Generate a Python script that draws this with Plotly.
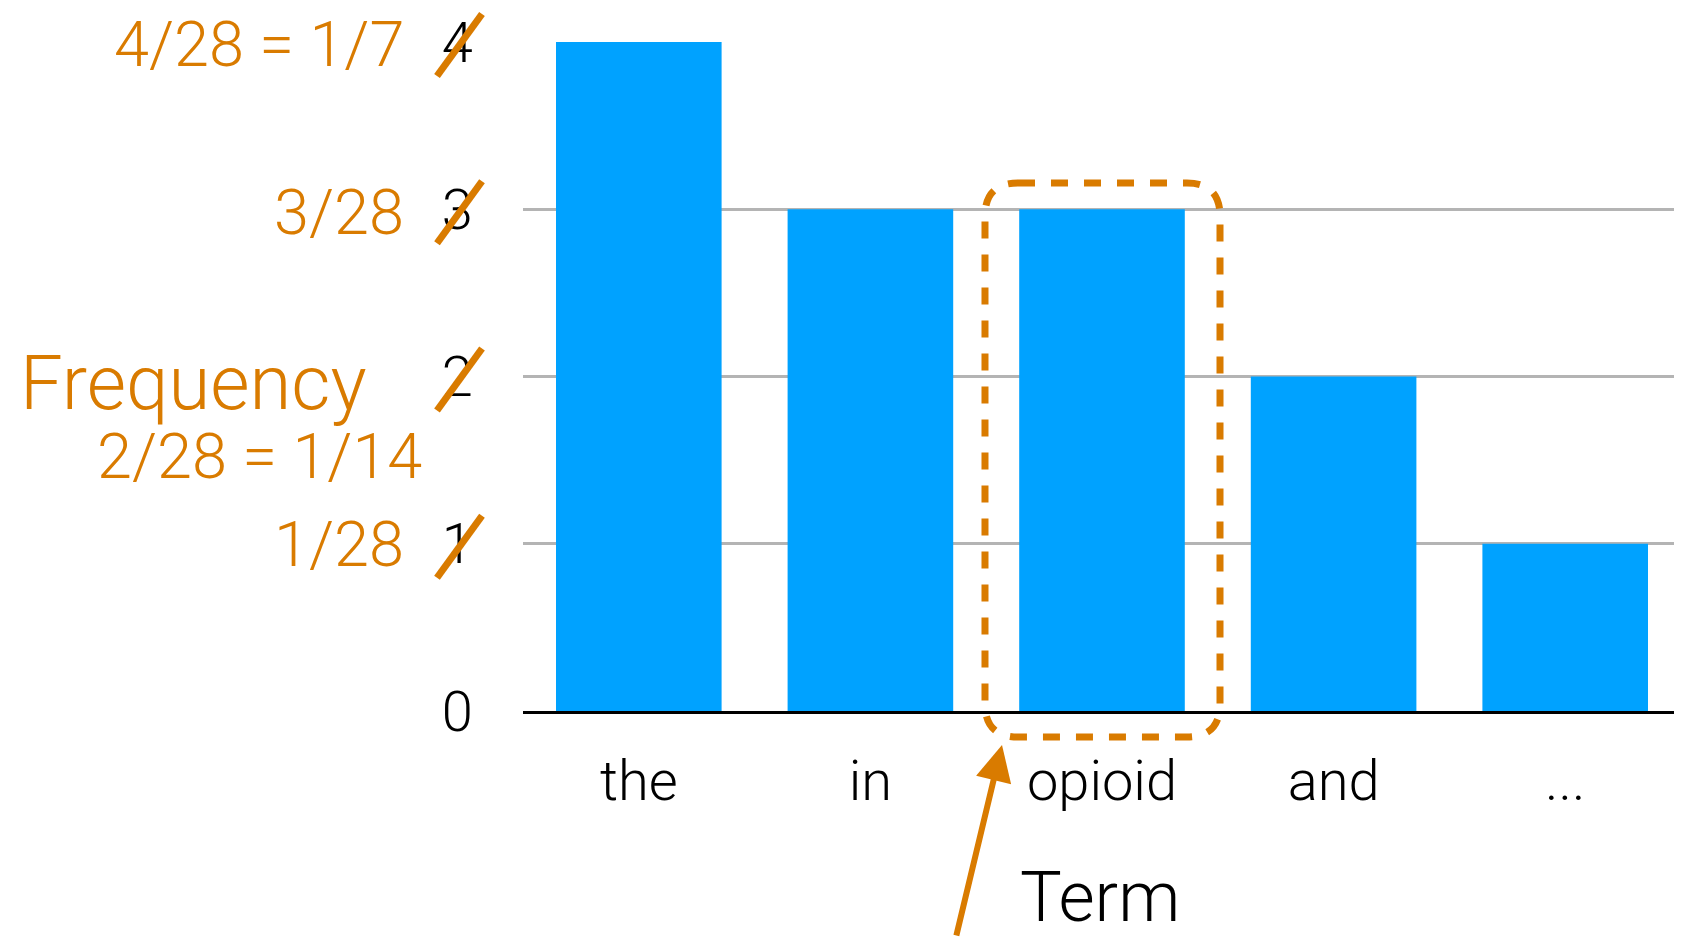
import plotly.graph_objects as go

# ---- data ----
terms = ["the", "in", "opioid", "and", "..."]
counts = [4, 3, 3, 2, 1]
y_tick_vals = [0, 1, 2, 3, 4]
y_tick_text = ["0", "1", "2", "3", "4"]
prob_values = [4, 3, 2, 1]
prob_labels = ["4/28 = 1/7", "3/28", "2/28 = 1/14", "1/28"]
highlight_term = "opioid"

# ---- styling ----
OFF = 8  # page body margin
W, H = 1682 - OFF, 937 - OFF
L, R, T, B = 523 - OFF, 1, 42 - OFF, 226
PW, PH = W - L - R, H - T - B
ORANGE = "#D97B00"
BLUE = "#00A2FF"
FONT = "Roboto"


def px(x):
    return (x - OFF - L) / PW


def py(y):
    return (H - B - (y - OFF)) / PH


def ypix(v):
    return OFF + T + PH * (1 - v / 4.0)


fig = go.Figure(
    go.Bar(x=terms, y=counts, marker=dict(color=BLUE, line=dict(width=0)), showlegend=False)
)

fig.update_layout(
    width=W,
    height=H,
    margin=dict(l=L, r=R, t=T, b=B, pad=0),
    paper_bgcolor="white",
    plot_bgcolor="white",
    bargap=0.285,
    font=dict(family=FONT, color="black", weight=300),
)

fig.update_xaxes(
    type="category",
    showgrid=False,
    showline=True,
    linecolor="black",
    linewidth=3,
    ticks="outside",
    ticklen=19,
    tickcolor="rgba(0,0,0,0)",
    tickfont=dict(family=FONT, size=56, color="black", weight=300),
    zeroline=False,
)

fig.update_yaxes(
    range=[0, 4],
    tickvals=y_tick_vals,
    ticktext=y_tick_text,
    showgrid=True,
    gridcolor="#B4B4B4",
    gridwidth=2.5,
    zeroline=False,
    showline=False,
    ticks="outside",
    ticklen=38,
    tickcolor="rgba(0,0,0,0)",
    tickfont=dict(family=FONT, size=56, color="black", weight=300),
)

annotations = []
shapes = []

# probability labels and strike-throughs
label_offsets = {4: 2, 3: 3, 2: 80, 1: 1}
label_right = {4: 406, 3: 406, 2: 424, 1: 406}
for v, lab in zip(prob_values, prob_labels):
    cy = ypix(v) + label_offsets[v]
    annotations.append(dict(
        x=px(label_right[v]), y=py(cy), xref="paper", yref="paper",
        text=lab, showarrow=False, xanchor="right", yanchor="middle",
        font=dict(family=FONT, size=63, color=ORANGE, weight=300),
    ))
    sc = ypix(v) + 3
    shapes.append(dict(
        type="line", xref="paper", yref="paper",
        x0=px(437), y0=py(sc + 31), x1=px(482), y1=py(sc - 31),
        line=dict(color=ORANGE, width=7),
    ))

# "Frequency" label
annotations.append(dict(
    x=px(18), y=py(383), xref="paper", yref="paper", text="Frequency",
    showarrow=False, xanchor="left", yanchor="middle",
    font=dict(family=FONT, size=76, color=ORANGE, weight=300),
))

# "Term" label
annotations.append(dict(
    x=px(1100), y=py(897), xref="paper", yref="paper", text="Term",
    showarrow=False, xanchor="center", yanchor="middle",
    font=dict(family=FONT, size=70, color="black", weight=300),
))

# dashed rounded box around highlighted term
x0, x1, y0, y1, r = 985, 1220, 183, 737, 33
pts = [
    ("M", x0 + r, y0), ("L", x1 - r, y0), ("Q", x1, y0, x1, y0 + r),
    ("L", x1, y1 - r), ("Q", x1, y1, x1 - r, y1), ("L", x0 + r, y1),
    ("Q", x0, y1, x0, y1 - r), ("L", x0, y0 + r), ("Q", x0, y0, x0 + r, y0),
]
path = ""
for p in pts:
    cmd = p[0]
    coords = p[1:]
    parts = []
    for i in range(0, len(coords), 2):
        parts.append(f"{px(coords[i]):.5f},{py(coords[i+1]):.5f}")
    path += cmd + " ".join(parts) + " "
path += "Z"
shapes.append(dict(
    type="path", xref="paper", yref="paper", path=path,
    line=dict(color=ORANGE, width=7, dash="17px,16px"),
    fillcolor="rgba(0,0,0,0)",
))

# arrow pointing to the box
annotations.append(dict(
    x=px(1002), y=py(745), xref="paper", yref="paper", text="",
    showarrow=True, ax=-46, ay=215, axref="pixel", ayref="pixel",
    arrowhead=2, arrowsize=1.2, arrowwidth=6, arrowcolor=ORANGE, standoff=0,
))

fig.update_layout(annotations=annotations, shapes=shapes)

fig.write_html("out.html")
